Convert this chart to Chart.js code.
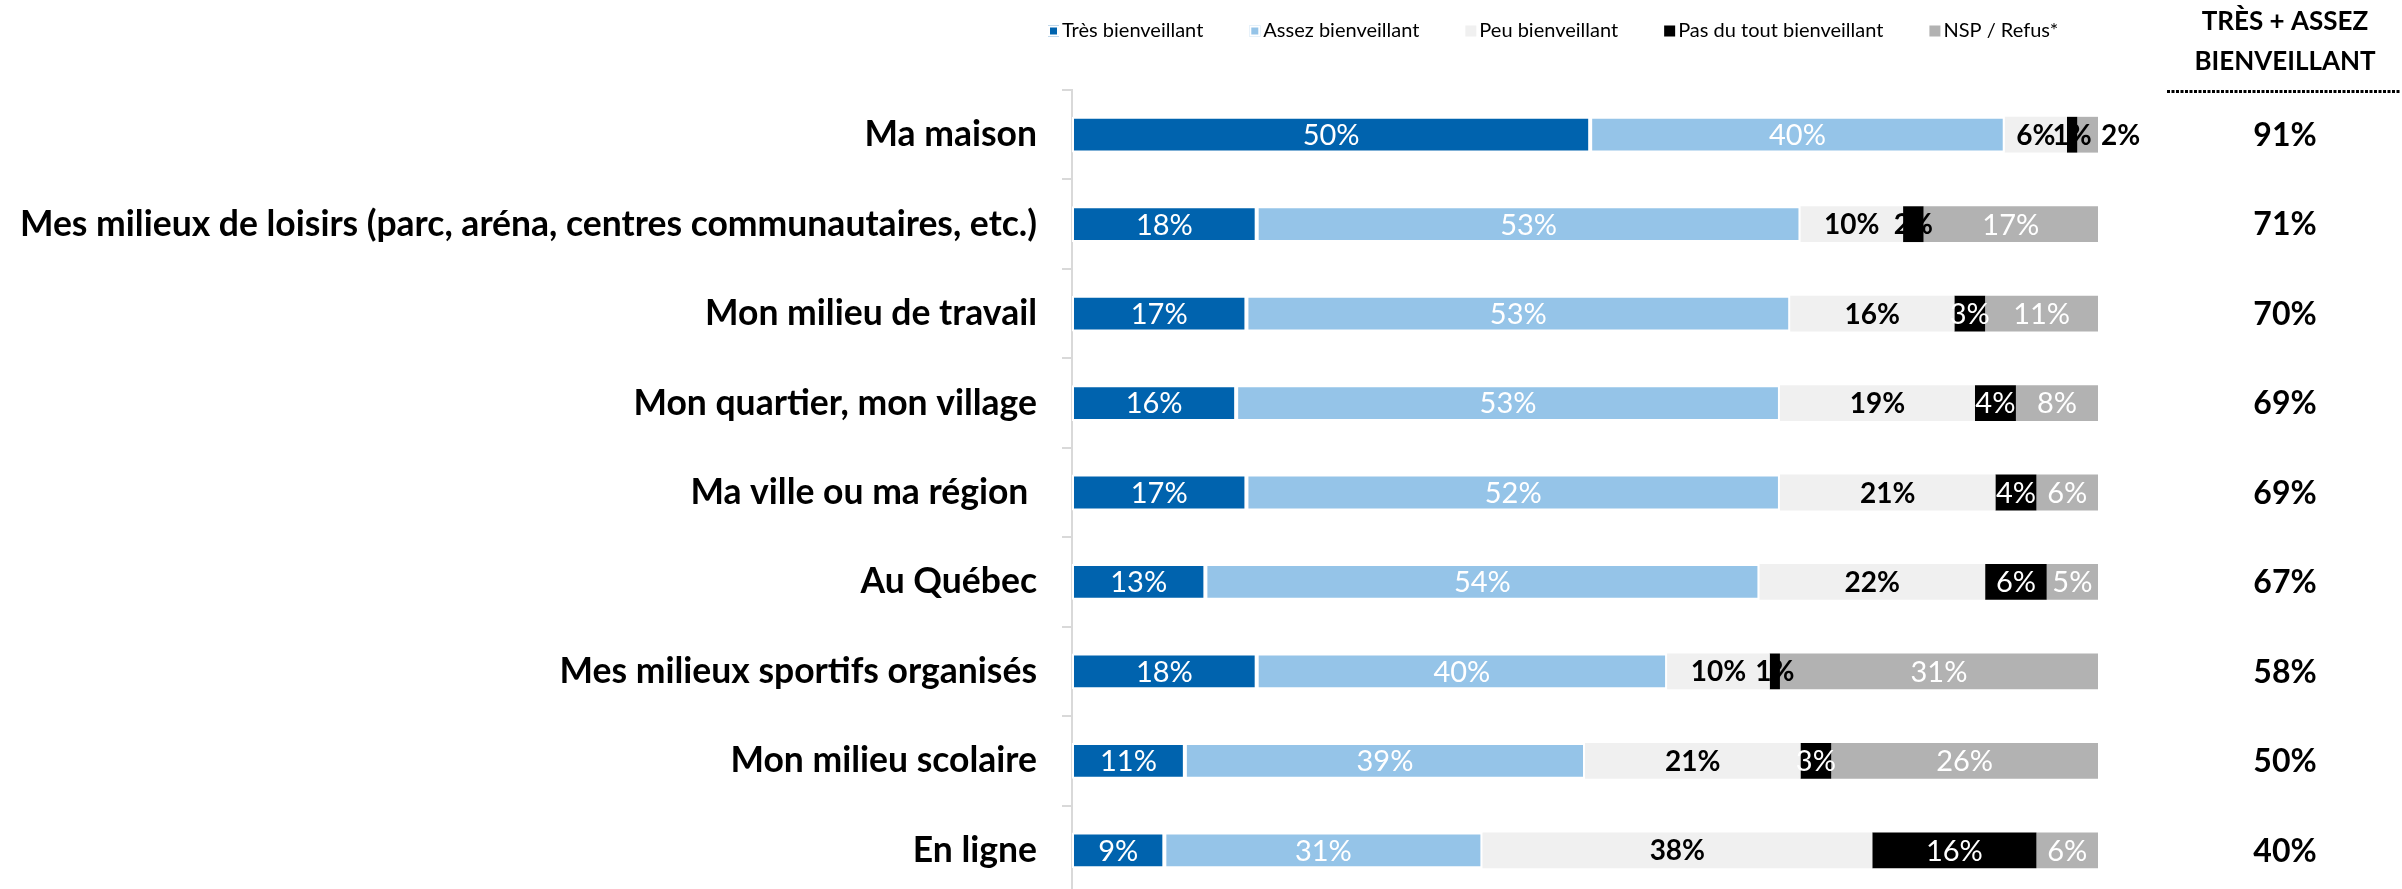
<!DOCTYPE html>
<html><head><meta charset="utf-8">
<script src="https://cdn.jsdelivr.net/npm/chart.js@4.4.1/dist/chart.umd.min.js"></script>
<style>
html,body{margin:0;padding:0;background:#fff;overflow:hidden;width:2402px;height:889px;}
#wrap{position:relative;width:2402px;height:900px;}
</style></head>
<body>
<div id="wrap"><canvas id="c" width="2402" height="900"></canvas></div>
<script>
const categories = ['Ma maison', 'Mes milieux de loisirs (parc, aréna, centres communautaires, etc.)', 'Mon milieu de travail', 'Mon quartier, mon village', 'Ma ville ou ma région ', 'Au Québec', 'Mes milieux sportifs organisés', 'Mon milieu scolaire', 'En ligne'];
const seriesNames = ['Très bienveillant', 'Assez bienveillant', 'Peu bienveillant', 'Pas du tout bienveillant', 'NSP / Refus*'];
const tresBienveillant = [50, 18, 17, 16, 17, 13, 18, 11, 9];
const assezBienveillant = [40, 53, 53, 53, 52, 54, 40, 39, 31];
const peuBienveillant = [6, 10, 16, 19, 21, 22, 10, 21, 38];
const pasDuTout = [1, 2, 3, 4, 4, 6, 1, 3, 16];
const nspRefus = [2, 17, 11, 8, 6, 5, 31, 26, 6];
const tresPlusAssez = ['91%', '71%', '70%', '69%', '69%', '67%', '58%', '50%', '40%'];
const headerLines = ['TRÈS + ASSEZ', 'BIENVEILLANT'];

const FONT = 'Lato';
const raw = [tresBienveillant, assezBienveillant, peuBienveillant, pasDuTout, nspRefus];
const colors = ['#0063AE', '#95C4E8', '#F0F0F0', '#000000', '#B2B2B2'];
const rowSums = categories.map((_, i) => raw.reduce((s, a) => s + a[i], 0));

const datasets = raw.map((arr, k) => ({
  label: seriesNames[k],
  data: arr.map((v, i) => v / rowSums[i] * 100),
  rawValues: arr,
  backgroundColor: colors[k],
  borderColor: '#FFFFFF',
  borderWidth: k < 2 ? 2 : 0,
  borderSkipped: false,
  barPercentage: 0.4,
  categoryPercentage: 1.0
}));

const labelsPlugin = {
  id: 'segLabels',
  afterDatasetsDraw(chart) {
    const ctx = chart.ctx;
    ctx.save();
    ctx.textBaseline = 'middle';
    chart.data.datasets.forEach((ds, k) => {
      const meta = chart.getDatasetMeta(k);
      meta.data.forEach((bar, i) => {
        const v = ds.rawValues[i];
        const txt = v + '%';
        const left = Math.min(bar.x, bar.base), right = Math.max(bar.x, bar.base);
        let color = '#FFFFFF';
        if (k === 2) color = '#000000';
        if (k === 3 && v <= 2) color = '#000000';
        let x = (left + right) / 2, align = 'center';
        ctx.font = (color === '#000000' ? 'bold 28px ' : '29px ') + FONT;
        const w = ctx.measureText(txt).width;
        if (k === 4 && (right - left) < w) {
          color = '#000000'; x = right + 3; align = 'left';
          ctx.font = 'bold 28px ' + FONT;
        }
        ctx.fillStyle = color;
        ctx.textAlign = align;
        ctx.fillText(txt, x, bar.y + 1);
      });
    });
    ctx.restore();
  }
};

const extrasPlugin = {
  id: 'extras',
  afterDraw(chart) {
    const ctx = chart.ctx;
    const ys = chart.scales.y;
    const cx = 2285;
    ctx.save();
    ctx.fillStyle = '#000';
    ctx.textAlign = 'center';
    ctx.textBaseline = 'middle';
    ctx.font = 'bold 26px ' + FONT;
    ctx.fillText(headerLines[0], cx, 22);
    ctx.fillText(headerLines[1], cx, 62);
    ctx.strokeStyle = '#000';
    ctx.lineWidth = 3;
    ctx.setLineDash([3, 1.5]);
    ctx.beginPath(); ctx.moveTo(2167, 91.5); ctx.lineTo(2400, 91.5); ctx.stroke();
    ctx.setLineDash([]);
    ctx.font = 'bold 32px ' + FONT;
    tresPlusAssez.forEach((t, i) => ctx.fillText(t, cx, ys.getPixelForValue(i) + 1));
    ctx.font = '20px ' + FONT;
    ctx.textAlign = 'left';
    let x = chart.chartArea.left - 24;
    const ly = 31;
    chart.data.datasets.forEach((ds, k) => {
      ctx.fillStyle = colors[k];
      ctx.fillRect(x, ly - 5.5, 11, 11);
      if (k < 2) { ctx.strokeStyle = '#fff'; ctx.lineWidth = 2; ctx.strokeRect(x + 1, ly - 4.5, 9, 9); }
      ctx.fillStyle = '#000';
      ctx.fillText(ds.label, x + 14, ly);
      x += 14 + ctx.measureText(ds.label).width + 46;
    });
    ctx.restore();
  }
};

new Chart(document.getElementById('c'), {
  type: 'bar',
  data: { labels: categories, datasets },
  options: {
    indexAxis: 'y',
    responsive: false,
    animation: false,
    events: [],
    layout: { padding: { top: 90, bottom: 5, right: 304, left: 0 } },
    plugins: { legend: { display: false }, tooltip: { enabled: false } },
    scales: {
      x: { stacked: true, min: 0, max: 100, display: false },
      y: {
        stacked: true,
        afterFit(scale) { scale.width = 1072; scale.paddingTop = 0; scale.paddingBottom = 0; },
        grid: { drawOnChartArea: false, tickLength: 10, color: '#D9D9D9', lineWidth: 2, offset: true },
        border: { display: true, color: '#D9D9D9', width: 2 },
        ticks: { padding: 25, color: '#000', font: { family: FONT, size: 35.5, weight: 'bold' } }
      }
    }
  },
  plugins: [labelsPlugin, extrasPlugin]
});
</script>
</body></html>
